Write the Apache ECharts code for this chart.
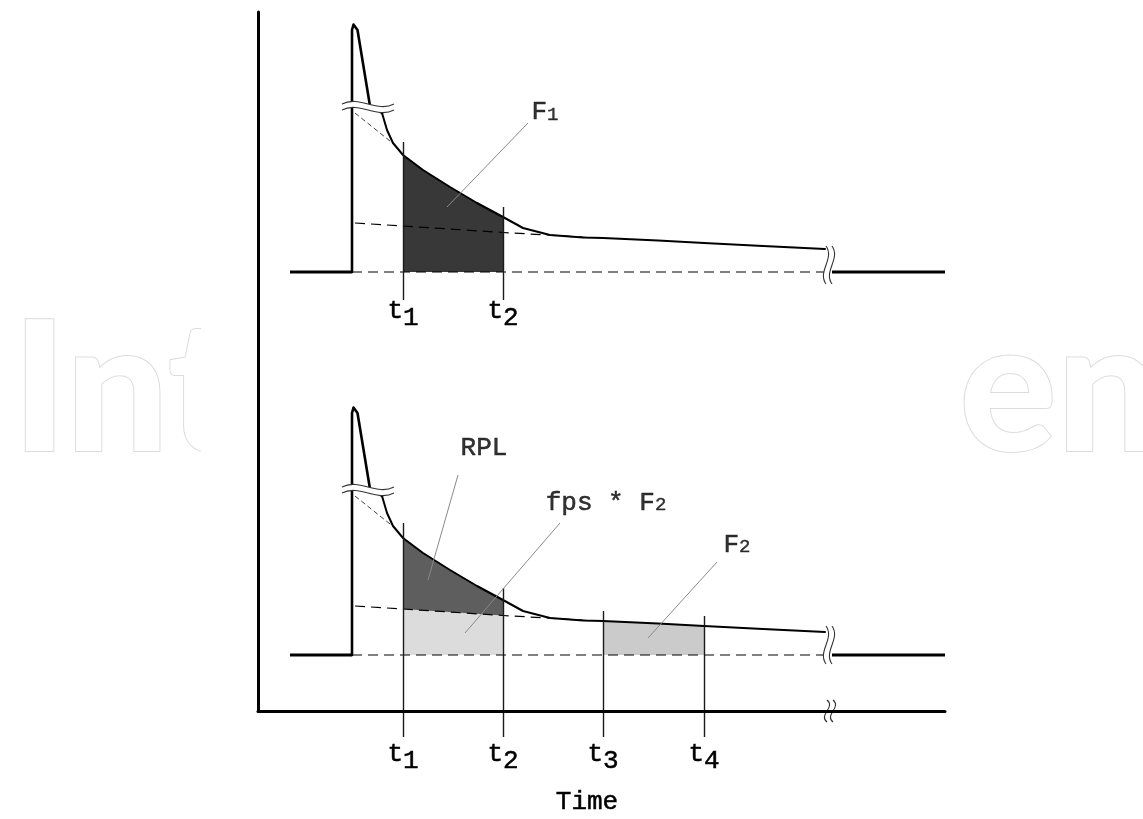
<!DOCTYPE html>
<html>
<head>
<meta charset="utf-8">
<title>RPL decay</title>
<script src="https://cdn.jsdelivr.net/npm/echarts@6/dist/echarts.min.js"></script>
<style>
  html, body { margin: 0; padding: 0; background: #fff; }
  #main { width: 1143px; height: 819px; }
</style>
</head>
<body>
<div id="main"></div>
<script>
// time marks t1..t4
var tMarks = [1.45, 2.45, 3.45, 4.46];
var tNames = ['1', '2', '3', '4'];

// excitation pulse: rise + spike (same in both panels)
var pulseT = [0.94, 0.94, 0.955, 0.975, 0.995, 1.12, 1.24];
var pulseV = [0, 24.2, 24.75, 24.75, 24.2, 16.6, 15.9];

// decay after the spike
var decayT = [1.24, 1.29, 1.35, 1.45, 1.65, 1.92, 2.19, 2.45, 2.65, 2.92, 3.25, 3.45, 4.0, 4.46, 5.0, 5.67];
var decayV = [15.9, 14.2, 12.9, 11.7, 10.2, 8.5, 6.9, 5.5, 4.4, 3.7, 3.45, 3.4, 3.15, 2.9, 2.63, 2.3];

// slow component (dashed) and fast component extrapolation
var slowT = [0.97, 1.45, 2.45, 2.9, 3.3];
var slowV = [4.9, 4.6, 3.95, 3.7, 3.45];
var fastT = [0.97, 1.37];
var fastV = [15.9, 12.7];

// baseline pieces (time)
var baseLeft = [0.32, 0.94];
var baseDash = [0.94, 5.68];
var baseRight = [5.74, 6.87];

// vertical marker lines: top ends per panel, common lower end
var topTickTop = [13.0, 6.5];
var botTickTop = [13.2, 6.7, 4.4, 3.9];
var topTickLow = -2.8;
var botTickLow = -8.2;

// leader lines [t0, v0, t1, v1]
var leadTop = [[2.7, 14.9, 1.89, 6.5]];
var leadBot = [[2.0, 18.0, 1.70, 7.5], [3.02, 13.2, 2.07, 2.2], [4.59, 9.3, 3.90, 1.7]];

// labels
var labTop = [[2.87, 15.95, 'F{s|1}']];
var labBot = [[2.26, 20.7, 'RPL'], [3.48, 15.2, 'fps * F{s|2}'], [4.79, 11.0, 'F{s|2}']];

// break marks [t, v, kind]  kind 0 = across the spike, 1 = panel end, 2 = time axis
var brkTop = [[1.10, 16.5, 0], [5.71, 0.7, 1]];
var brkBot = [[1.10, 16.5, 0], [5.71, 1.0, 1]];
var brkAxis = [[5.72, 0, 2]];

var MONO = '"Liberation Mono", monospace';
var INK = '#000';

function zip(ts, vs) { return ts.map(function (t, i) { return [t, vs[i]]; }); }
function cut(ts, vs, a, b) {
  return zip(ts, vs).filter(function (p) { return p[0] >= a - 1e-6 && p[0] <= b + 1e-6; });
}

function plain(gi, data, style, z) {
  return {
    type: 'line', xAxisIndex: gi, yAxisIndex: gi, data: data, showSymbol: false,
    silent: true, clip: false, lineStyle: Object.assign({ join: 'round', cap: 'round' }, style), z: z || 2
  };
}
function area(gi, data, color) {
  return {
    type: 'line', xAxisIndex: gi, yAxisIndex: gi, data: data, showSymbol: false,
    silent: true, lineStyle: { width: 0 }, areaStyle: { color: color, opacity: 1 }, z: 2
  };
}
function segs(gi, list, style) {
  return {
    type: 'lines', coordinateSystem: 'cartesian2d', xAxisIndex: gi, yAxisIndex: gi,
    clip: false, silent: true, lineStyle: style, z: 4,
    data: list.map(function (s) { return { coords: [[s[0], s[1]], [s[2], s[3]]] }; })
  };
}
function texts(gi, list) {
  return {
    type: 'scatter', xAxisIndex: gi, yAxisIndex: gi, symbolSize: 0, silent: true, z: 6,
    data: list.map(function (l) { return { value: [l[0], l[1]], txt: l[2] }; }),
    label: {
      show: true, position: 'inside', color: INK, fontFamily: MONO, fontSize: 26,
      textBorderColor: INK, textBorderWidth: 0.5,
      formatter: function (p) { return p.data.txt; },
      rich: { s: { fontFamily: MONO, fontSize: 19, color: INK, textBorderColor: INK, textBorderWidth: 0.4, padding: [4, 0, 0, 0] } }
    }
  };
}

function wave(x0, y0, x1, y1, c1x, c1y, c2x, c2y) {
  return 'M' + x0 + ' ' + y0 + ' C' + c1x + ' ' + c1y + ' ' + c2x + ' ' + c2y + ' ' + x1 + ' ' + y1;
}
function renderBreak(params, api) {
  var c = api.coord([api.value(0), api.value(1)]);
  var kind = api.value(2);
  var x = c[0], y = c[1], g = 3, parts = [];
  var a, b, fill;
  if (kind === 0) {
    var w = 26;
    a = wave(x - w, y - g, x + w, y - g, x - w / 3, y - g - 9, x + w / 3, y - g + 9);
    b = wave(x - w, y + g, x + w, y + g, x - w / 3, y + g - 9, x + w / 3, y + g + 9);
    fill = a + ' L' + (x + w) + ' ' + (y + g) + ' C' + (x + w / 3) + ' ' + (y + g + 9) + ' ' +
      (x - w / 3) + ' ' + (y + g - 9) + ' ' + (x - w) + ' ' + (y + g) + ' Z';
  } else {
    var h = kind === 1 ? 19 : 11;
    a = wave(x - g, y - h, x - g, y + h, x - g + 9, y - h / 3, x - g - 9, y + h / 3);
    b = wave(x + g, y - h, x + g, y + h, x + g + 9, y - h / 3, x + g - 9, y + h / 3);
    fill = a + ' L' + (x + g) + ' ' + (y + h) + ' C' + (x + g - 9) + ' ' + (y + h / 3) + ' ' +
      (x + g + 9) + ' ' + (y - h / 3) + ' ' + (x + g) + ' ' + (y - h) + ' Z';
  }
  parts.push({ type: 'path', shape: { pathData: fill }, style: { fill: '#fff', stroke: null } });
  parts.push({ type: 'path', shape: { pathData: a }, style: { fill: null, stroke: '#333', lineWidth: 1.1 } });
  parts.push({ type: 'path', shape: { pathData: b }, style: { fill: null, stroke: '#333', lineWidth: 1.1 } });
  return { type: 'group', children: parts };
}
function breaks(gi, data) {
  return {
    type: 'custom', xAxisIndex: gi, yAxisIndex: gi, data: data, renderItem: renderBreak,
    silent: true, clip: false, z: 5
  };
}

function panel(gi, tickTop, tickLow, nTicks, leads, labs, brk) {
  var out = [];
  var dash = { color: INK, width: 1.2, type: [10, 6], cap: 'butt' };
  // dashed reference lines
  out.push(plain(gi, [[baseDash[0], 0], [baseDash[1], 0]], dash));
  out.push(plain(gi, zip(slowT, slowV), dash));
  out.push(plain(gi, zip(fastT, fastV), { color: '#444', width: 1, type: [5, 3], cap: 'butt' }));
  // filled areas
  if (gi === 0) {
    out.push(area(gi, cut(decayT, decayV, tMarks[0], tMarks[1]), '#383838'));
  } else {
    out.push(area(gi, cut(decayT, decayV, tMarks[0], tMarks[1]), '#5e5e5e'));
    out.push(area(gi, cut(slowT, slowV, tMarks[0], tMarks[1]), '#dcdcdc'));
    out.push(area(gi, cut(decayT, decayV, tMarks[2], tMarks[3]), '#cbcbcb'));
  }
  // signal
  out.push(plain(gi, zip(pulseT, pulseV), { color: INK, width: 2.6 }, 3));
  out.push(plain(gi, zip(decayT, decayV), { color: INK, width: 2 }, 3));
  out.push(plain(gi, [[baseLeft[0], 0], [baseLeft[1], 0]], { color: INK, width: 3.2, cap: 'butt' }, 3));
  out.push(plain(gi, [[baseRight[0], 0], [baseRight[1], 0]], { color: INK, width: 3.2, cap: 'butt' }, 3));
  // t markers
  var v = [];
  for (var i = 0; i < nTicks; i++) v.push([tMarks[i], tickLow, tMarks[i], tickTop[i]]);
  out.push(segs(gi, v, { color: '#1a1a1a', width: 1.4, opacity: 1 }));
  out.push(segs(gi, leads, { color: '#8a8a8a', width: 1, opacity: 1 }));
  out.push(breaks(gi, brk));
  out.push(texts(gi, labs));
  return out;
}

function tLabel(nTicks, margin) {
  return {
    show: true, margin: margin, customValues: tMarks.slice(0, nTicks),
    formatter: function (val) {
      var i = 0;
      tMarks.forEach(function (m, k) { if (Math.abs(m - val) < 1e-6) i = k; });
      return '{a|t}{b|' + tNames[i] + '}';
    },
    rich: {
      a: { fontFamily: MONO, fontSize: 26, color: INK, textBorderColor: INK, textBorderWidth: 0.5,
        verticalAlign: 'top', lineHeight: 30 },
      b: { fontFamily: MONO, fontSize: 26, color: INK, textBorderColor: INK, textBorderWidth: 0.5,
        verticalAlign: 'top', lineHeight: 30, padding: [7, 0, 0, 0] }
    }
  };
}

var xBase = { type: 'value', min: 0, max: 6.87, z: 5, axisLine: { show: false }, axisTick: { show: false },
  splitLine: { show: false }, axisLabel: { show: false } };
var yBase = { type: 'value', min: 0, max: 26, show: false, splitLine: { show: false } };
var markStyle = { font: '900 182px Lato', fill: '#fff', stroke: '#dcdcdc', lineWidth: 2, verticalAlign: 'middle' };

var option = {
  backgroundColor: '#fff',
  animation: false,
  grid: [
    { left: 258, right: 198, top: 12, bottom: 547, outerBoundsMode: 'none' },
    { left: 258, right: 198, top: 395, bottom: 164, outerBoundsMode: 'none' },
    { left: 258, right: 198, top: 12, bottom: 108, outerBoundsMode: 'none' }
  ],
  xAxis: [
    Object.assign({}, xBase, { gridIndex: 0, axisLabel: tLabel(2, 26) }),
    Object.assign({}, xBase, { gridIndex: 1 }),
    Object.assign({}, xBase, {
      gridIndex: 2, axisLine: { show: true, lineStyle: { color: INK, width: 3 } },
      axisLabel: tLabel(4, 30)
    })
  ],
  yAxis: [
    Object.assign({}, yBase, { gridIndex: 0 }),
    Object.assign({}, yBase, { gridIndex: 1 }),
    { type: 'value', gridIndex: 2, z: 5, min: 0, max: 1, axisLine: { show: true, lineStyle: { color: INK, width: 3 } },
      axisTick: { show: false }, axisLabel: { show: false }, splitLine: { show: false } }
  ],
  graphic: [
    // faint publisher watermark behind the figure, hidden in the middle by the white figure box
    { type: 'text', x: 12, y: 392, z: 0, silent: true, style: Object.assign({ text: 'Int', align: 'left' }, markStyle) },
    { type: 'text', x: 1160, y: 392, z: 0, silent: true, style: Object.assign({ text: 'en', align: 'right' }, markStyle) },
    { type: 'rect', z: 1, silent: true, shape: { x: 201, y: 0, width: 759, height: 819 }, style: { fill: '#fff' } },
    { type: 'text', x: 587, y: 802, z: 10, silent: true,
      style: { text: 'Time', font: '26px ' + MONO, fill: INK, stroke: INK, lineWidth: 0.5, align: 'center', verticalAlign: 'middle' } }
  ],
  series: [].concat(
    panel(0, topTickTop, topTickLow, 2, leadTop, labTop, brkTop),
    panel(1, botTickTop, botTickLow, 4, leadBot, labBot, brkBot),
    [breaks(2, brkAxis)]
  )
};

var myChart = echarts.init(document.getElementById('main'));
myChart.setOption(option);
</script>
</body>
</html>
